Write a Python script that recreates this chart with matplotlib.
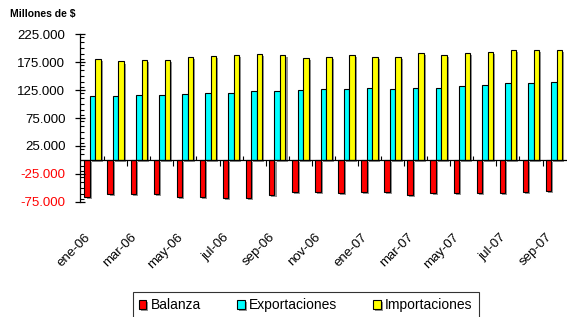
import matplotlib
matplotlib.use("Agg")
import matplotlib.pyplot as plt
import matplotlib.patheffects as pe
from matplotlib.ticker import FuncFormatter, MultipleLocator
import numpy as np

plt.rcParams['font.family'] = ['Liberation Sans', 'DejaVu Sans']

# datos (millones de $)
meses = ['ene-06', 'feb-06', 'mar-06', 'abr-06', 'may-06', 'jun-06', 'jul-06',
         'ago-06', 'sep-06', 'oct-06', 'nov-06', 'dic-06', 'ene-07', 'feb-07',
         'mar-07', 'abr-07', 'may-07', 'jun-07', 'jul-07', 'ago-07', 'sep-07']
exportaciones = [114300, 114300, 116000, 116000, 118000, 120000, 120000, 122600, 122600,
                 124400, 126000, 126000, 128000, 126000, 128000, 128000, 131600, 134000,
                 138000, 138000, 140000]
importaciones = [179800, 176000, 178000, 178000, 184000, 186000, 187500, 190000, 187500,
                 181600, 184000, 187500, 184000, 184000, 191600, 187500, 191600, 193400,
                 196000, 196000, 196000]
balanza = [-65500, -61000, -61000, -61000, -65500, -65500, -67000, -67000, -63000,
           -57700, -57700, -59500, -57700, -57700, -63000, -59500, -59500, -59500,
           -59500, -57700, -56000]

x = np.arange(len(meses))
w = 0.238

fig = plt.figure(figsize=(5.68, 3.17), dpi=100)
ax = fig.add_axes([0.1408, 0.3628, 0.857, 0.5299])

sombra = [pe.SimplePatchShadow(offset=(1.5, -1.5), shadow_rgbFace='#888888', alpha=0.9), pe.Normal()]
b1 = ax.bar(x - w, balanza, w, color='#ff0000', edgecolor='black', linewidth=0.8, label='Balanza')
b2 = ax.bar(x, exportaciones, w, color='#00ffff', edgecolor='black', linewidth=0.8, label='Exportaciones')
b3 = ax.bar(x + w, importaciones, w, color='#ffff00', edgecolor='black', linewidth=0.8, label='Importaciones')
for barras in (b1, b2, b3):
    for p in barras:
        p.set_path_effects(sombra)

ax.set_xlim(-0.55, len(meses) - 0.45)
ax.set_ylim(-75000, 225000)
ax.axhline(0, color='black', linewidth=0.9, zorder=5)

# eje y
ax.set_yticks(np.arange(-75000, 225001, 50000))
ax.yaxis.set_minor_locator(MultipleLocator(10000))
ax.yaxis.set_major_formatter(FuncFormatter(lambda v, p: f'{v:,.0f}'.replace(',', '.')))
ax.tick_params(axis='y', which='major', direction='inout', length=7, width=0.9, labelsize=9.5, pad=7)
ax.tick_params(axis='y', which='minor', direction='in', length=3, width=0.8)
for lab, v in zip(ax.get_yticklabels(), ax.get_yticks()):
    if v < 0:
        lab.set_color('red')

# eje x
ax.set_xticks(x[::2])
ax.set_xticklabels(meses[::2], rotation=45, ha='right', va='top', fontsize=9.5)
ax.tick_params(axis='x', which='major', length=0, pad=21)

# marcas de categoria sobre la linea cero
pos0 = 75000 / 300000
sec1 = ax.secondary_xaxis(pos0)
sec1.set_xticks(np.arange(1.5, len(meses) - 1, 2))
sec1.tick_params(direction='out', length=4, width=0.8, labelbottom=False)
sec1.spines['bottom'].set_visible(False)
sec2 = ax.secondary_xaxis(pos0)
sec2.set_xticks(np.arange(0.5, len(meses) - 1, 2))
sec2.tick_params(direction='in', length=3, width=0.8, labelbottom=False)
sec2.spines['bottom'].set_visible(False)

for s in ['top', 'right', 'bottom']:
    ax.spines[s].set_visible(False)
ax.spines['left'].set_linewidth(0.9)

fig.text(10 / 568, 1 - 14 / 317, 'Millones de $', fontsize=7.5, fontweight='bold', va='center')

leg = fig.legend(handles=[b1, b2, b3], loc='upper center', bbox_to_anchor=(0.538, 1 - 292 / 317),
                 ncol=3, fontsize=10, frameon=True, fancybox=False, edgecolor='black',
                 handlelength=0.55, handleheight=0.55, handletextpad=0.3, columnspacing=2.6,
                 borderpad=0.45, borderaxespad=0)
leg.get_frame().set_linewidth(0.8)

fig.savefig('out.png', dpi=100)
